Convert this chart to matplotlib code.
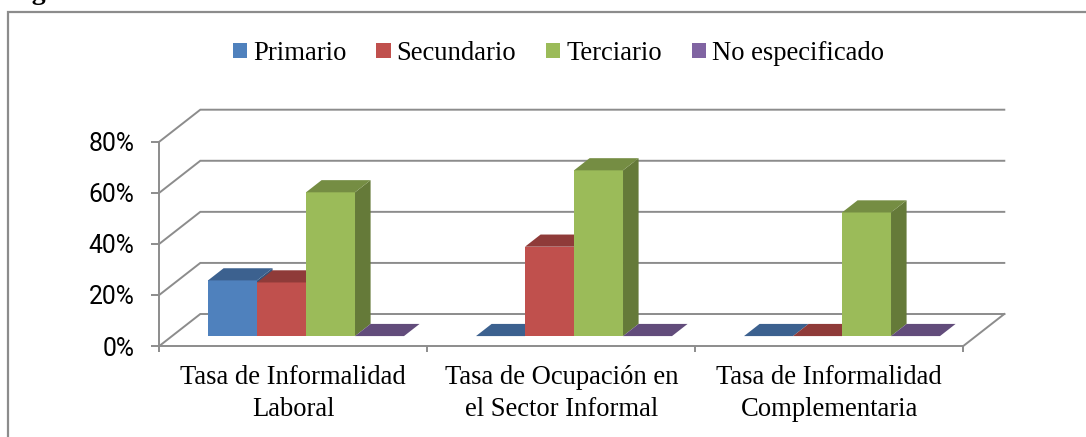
import matplotlib
matplotlib.use('Agg')
import matplotlib.pyplot as plt
from matplotlib.lines import Line2D
from matplotlib.patches import Patch, Polygon

categories = ['Tasa de Informalidad\nLaboral',
              'Tasa de Ocupación en\nel Sector Informal',
              'Tasa de Informalidad\nComplementaria']
series = ['Primario', 'Secundario', 'Terciario', 'No especificado']
primario = [21.8, 0, 0]
secundario = [21, 35, 0]
terciario = [56.3, 64.9, 48.4]
no_especificado = [0, 0, 0]
yticks = [0, 20, 40, 60, 80]
ylabels = ['0%', '20%', '40%', '60%', '80%']

# front, top, side colours of each series
colors = [('#4F81BD', '#3C618F', '#34557D'),
          ('#C0504D', '#8F3B39', '#7E3432'),
          ('#9BBB59', '#758D43', '#657A39'),
          ('#8064A2', '#624C7B', '#55426B')]
grid_color = '#8C8C8C'
lw = 1.4

W, H = 1086, 437
fig = plt.figure(figsize=(W / 100, H / 100), dpi=100, facecolor='white')
ax = fig.add_axes([159.3 / W, (H - 346) / H, 804 / W, 204.3 / H])
ax.set_xlim(0, 3)
ax.set_ylim(0, 80)
ax.patch.set_visible(False)

# oblique projection of the 3d walls, in data units
wall_dx = 41 / 268
wall_dy = 32 / 2.554
bar_start = 0.31
bar_end = 0.69
gap = 36 / 268
bar_w = (1 - 2 * gap) / 4


def project(x, y, depth):
    return (x + depth * wall_dx, y + depth * wall_dy)


# walls and floor
for v in yticks:
    x0, y0 = project(0, v, 1)
    x1, y1 = project(3, v, 1)
    ax.plot([0, x0, x1], [v, y0, y1], color=grid_color, lw=lw, clip_on=False,
            zorder=1, solid_joinstyle='miter')
x1, y1 = project(3, 0, 1)
ax.plot([3, x1], [0, y1], color=grid_color, lw=lw, clip_on=False, zorder=1)

# bars, left to right
values = [primario, secundario, terciario, no_especificado]
for c in range(len(categories)):
    for s, vals in enumerate(values):
        v = vals[c]
        xl = c + gap + s * bar_w
        xr = xl + bar_w
        front, top, side = colors[s]
        corners = [
            (front, [project(xl, 0, bar_start), project(xr, 0, bar_start),
                     project(xr, v, bar_start), project(xl, v, bar_start)]),
            (side, [project(xr, 0, bar_start), project(xr, 0, bar_end),
                    project(xr, v, bar_end), project(xr, v, bar_start)]),
            (top, [project(xl, v, bar_start), project(xr, v, bar_start),
                   project(xr, v, bar_end), project(xl, v, bar_end)]),
        ]
        for col, pts in corners:
            ax.add_patch(Polygon(pts, closed=True, facecolor=col, edgecolor='none',
                                 clip_on=False, zorder=3))

# axes
for side in ['top', 'right']:
    ax.spines[side].set_visible(False)
for side in ['left', 'bottom']:
    ax.spines[side].set_color(grid_color)
    ax.spines[side].set_linewidth(lw)
    ax.spines[side].set_zorder(4)

ax.set_yticks(yticks)
ax.set_yticklabels(ylabels, family='Roboto', fontsize=17.8, color='black')
ax.tick_params(axis='y', length=5.8, width=lw, color=grid_color, pad=12)
ax.set_xticks([0, 1, 2, 3])
ax.set_xticklabels([])
ax.tick_params(axis='x', which='major', length=4.3, width=lw, color=grid_color)
ax.set_xticks([0.5, 1.5, 2.5], minor=True)
ax.set_xticklabels(categories, minor=True, family='Liberation Serif', fontsize=19.2,
                   linespacing=1.33)
ax.tick_params(axis='x', which='minor', length=0, pad=14)

# legend
handles = [Patch(facecolor=colors[i][0], edgecolor='none', label=series[i]) for i in range(4)]
fig.legend(handles=handles, loc='center', bbox_to_anchor=(558.5 / W, 1 - 53.5 / H), ncols=4,
           frameon=False, prop={'family': 'Liberation Serif', 'size': 19.2},
           handlelength=0.53, handleheight=0.53, handletextpad=0.22, columnspacing=1.13,
           borderpad=0, borderaxespad=0)

# chart frame, open at right and bottom because the picture is cropped there
fig.add_artist(Line2D([1, 8 / W, 8 / W], [1 - 12 / H, 1 - 12 / H, 0], color=grid_color, lw=1.6,
                      solid_joinstyle='miter'))

# only the descenders of the cropped caption above the frame are visible
fig.text(8 / W, 1 + 1 / H, 'Figura', family='Liberation Serif', fontweight='bold', fontsize=20,
         va='baseline', ha='left')

fig.savefig('out.png', dpi=100, facecolor='white')
